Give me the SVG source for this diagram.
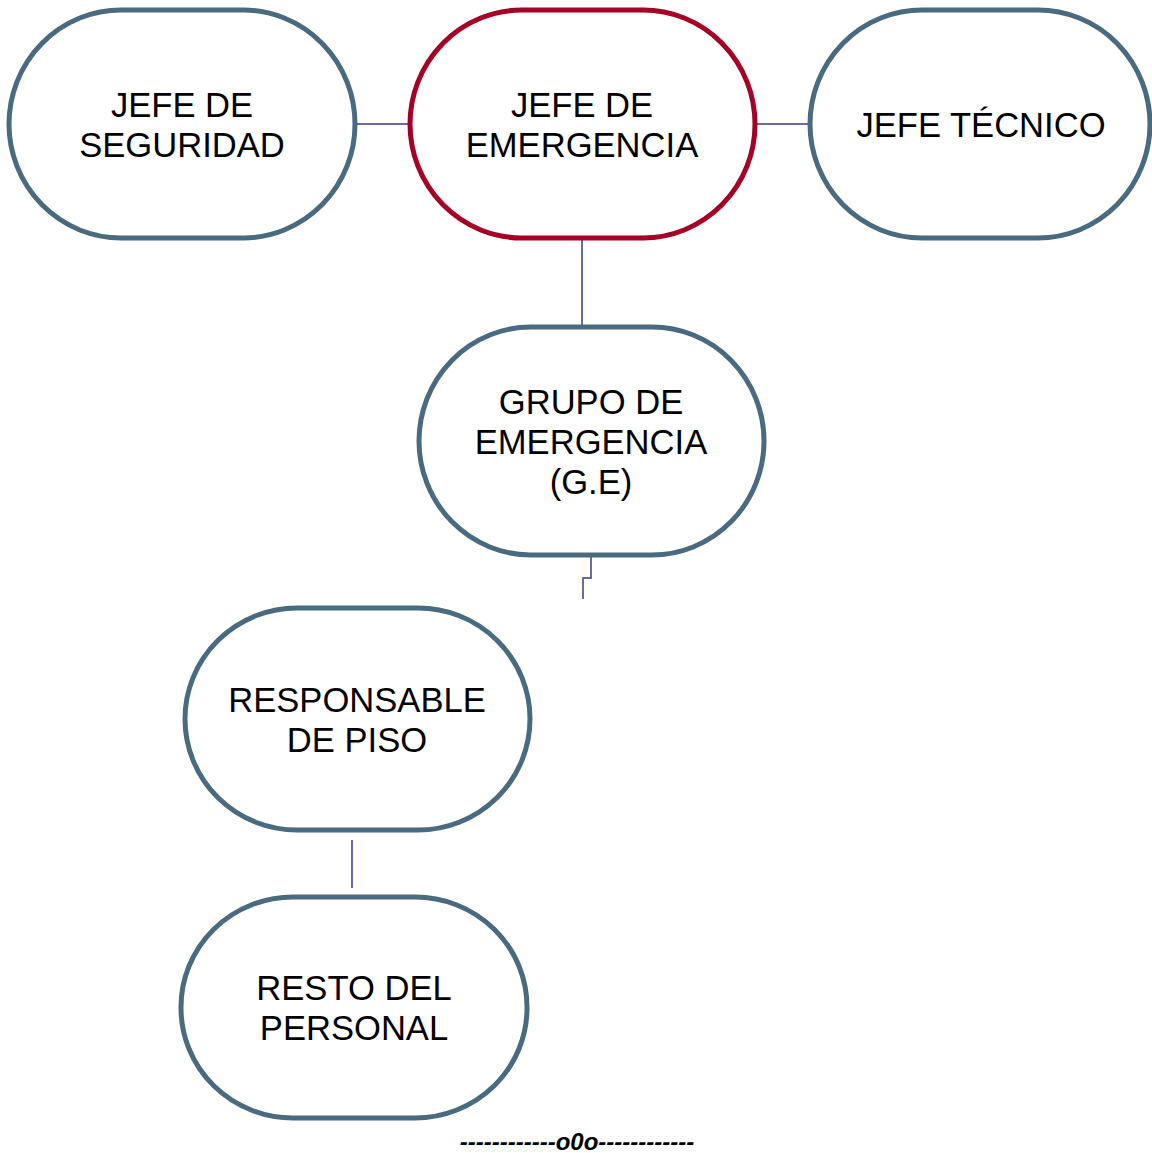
<svg xmlns="http://www.w3.org/2000/svg" width="1152" height="1153" viewBox="0 0 1152 1153">
<style>
.n{fill:#fff;stroke:#4a6a80;stroke-width:5}
.r{stroke:#a50026}
.t{font-family:"Liberation Sans",Arial,sans-serif;font-size:34.6px;fill:#000;text-anchor:middle}
.c{fill:none;stroke:#6a6aa6;stroke-width:2}
</style>
<rect width="1152" height="1153" fill="#fff"/>
<g id="connectors">
<path class="c" d="M355,124H410"/>
<path class="c" d="M755,124H810"/>
<path class="c" d="M582,238V326"/>
<path class="c" d="M591,556V578H583V599"/>
<path class="c" d="M352,840V888"/>
</g>
<g id="n1"><rect class="n" x="9" y="10" width="346" height="228" rx="112" ry="114"/>
<text class="t" x="182" y="117">JEFE DE</text><text class="t" x="182" y="157">SEGURIDAD</text></g>
<g id="n2"><rect class="n r" x="410" y="10" width="345" height="228" rx="112" ry="114"/>
<text class="t" x="582" y="117">JEFE DE</text><text class="t" x="582" y="157">EMERGENCIA</text></g>
<g id="n3"><rect class="n" x="810" y="10" width="340" height="228" rx="112" ry="114"/>
<text class="t" x="981" y="137">JEFE TÉCNICO</text></g>
<g id="n4"><rect class="n" x="419" y="327" width="345" height="228" rx="112" ry="114"/>
<text class="t" x="591" y="414">GRUPO DE</text><text class="t" x="591" y="454">EMERGENCIA</text><text class="t" x="591" y="494">(G.E)</text></g>
<g id="n5"><rect class="n" x="185" y="608" width="345" height="222" rx="112" ry="111"/>
<text class="t" x="357" y="712">RESPONSABLE</text><text class="t" x="357" y="752">DE PISO</text></g>
<g id="n6"><rect class="n" x="181" y="897" width="346" height="221" rx="112" ry="110"/>
<text class="t" x="354" y="1000">RESTO DEL</text><text class="t" x="354" y="1040">PERSONAL</text></g>
<text x="577" y="1150" font-family="Liberation Sans,Arial,sans-serif" font-size="24" font-weight="bold" font-style="italic" text-anchor="middle">------------o0o------------</text>
</svg>
